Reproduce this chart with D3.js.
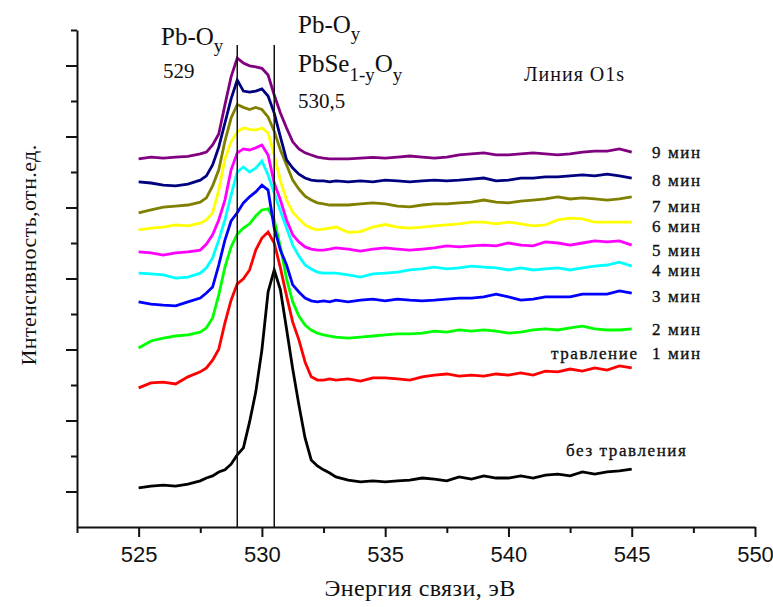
<!DOCTYPE html>
<html>
<head>
<meta charset="utf-8">
<script src="https://cdn.jsdelivr.net/npm/d3@7"></script>
<style>
  html, body { margin: 0; padding: 0; background: #fff; }
  svg { display: block; }
  text { font-family: "Liberation Serif", "Times New Roman", serif; fill: #111; }
  .tick text { font-family: "Liberation Sans", Arial, sans-serif; }
</style>
</head>
<body>
<svg id="chart" width="773" height="607"></svg>
<script>
// Binding energy grid, eV (finer steps across the O1s peak)
const energy = [525, 525.5, 526, 526.5, 527, 527.5,
  527.75, 528, 528.25, 528.5, 528.75, 529, 529.25, 529.5, 529.75, 530, 530.25,
  530.5, 530.75, 531, 531.25, 531.5, 531.75, 532, 532.25, 532.5, 532.75, 533,
  533.5, 534, 534.5, 535, 535.5, 536, 536.5, 537, 537.5, 538, 538.5, 539, 539.5,
  540, 540.5, 541, 541.5, 542, 542.5, 543, 543.5, 544, 544.5, 545];

// O1s intensity (rel. units, stacked) for each etching time
const min9 = [10.37, 10.42, 10.39, 10.42, 10.44, 10.51,
  10.56, 10.76, 11.07, 11.89, 12.68, 13.21, 13.07, 12.99, 12.96, 12.92, 12.73,
  12.17, 11.66, 11.24, 10.85, 10.65, 10.54, 10.48, 10.42, 10.39, 10.37, 10.37,
  10.37, 10.39, 10.41, 10.39, 10.42, 10.45, 10.42, 10.39, 10.42, 10.48, 10.51, 10.54, 10.48,
  10.48, 10.51, 10.54, 10.51, 10.48, 10.51, 10.56, 10.59, 10.59, 10.65, 10.56];
const min8 = [9.72, 9.69, 9.63, 9.61, 9.66, 9.77,
  9.89, 10.20, 10.70, 11.38, 12.06, 12.59, 12.28, 12.25, 12.28, 12.34, 12.14,
  11.66, 10.99, 10.34, 10.11, 9.94, 9.83, 9.77, 9.75, 9.75, 9.72, 9.75,
  9.72, 9.75, 9.72, 9.77, 9.75, 9.72, 9.75, 9.77, 9.75, 9.77, 9.80, 9.83, 9.75,
  9.77, 9.83, 9.83, 9.86, 9.86, 9.89, 9.92, 9.89, 9.94, 9.89, 9.83];
const min7 = [8.85, 8.93, 9.01, 9.04, 9.07, 9.15,
  9.27, 9.61, 10.06, 10.87, 11.52, 11.90, 11.82, 11.76, 11.82, 11.76, 11.55,
  11.15, 10.62, 10.20, 9.77, 9.52, 9.32, 9.21, 9.13, 9.10, 9.07, 9.07,
  9.07, 9.10, 9.13, 9.10, 9.04, 9.02, 9.07, 9.10, 9.10, 9.13, 9.15, 9.21, 9.15,
  9.13, 9.18, 9.21, 9.24, 9.30, 9.24, 9.27, 9.24, 9.21, 9.24, 9.30];
const min6 = [8.37, 8.42, 8.45, 8.51, 8.48, 8.56,
  8.65, 8.85, 9.49, 10.37, 10.85, 11.13, 11.24, 11.20, 11.18, 11.24, 11.10,
  10.48, 9.75, 9.21, 8.87, 8.68, 8.51, 8.42, 8.37, 8.39, 8.42, 8.45,
  8.30, 8.32, 8.45, 8.52, 8.45, 8.42, 8.45, 8.48, 8.51, 8.54, 8.59, 8.59, 8.54,
  8.59, 8.54, 8.48, 8.51, 8.65, 8.70, 8.68, 8.59, 8.59, 8.59, 8.59];
const min5 = [7.75, 7.72, 7.66, 7.72, 7.75, 7.80,
  7.97, 8.23, 8.65, 9.21, 10.06, 10.54, 10.65, 10.62, 10.68, 10.76, 10.48,
  9.69, 9.21, 8.65, 8.23, 8.03, 7.89, 7.83, 7.80, 7.80, 7.83, 7.86,
  7.83, 7.77, 7.83, 7.86, 7.83, 7.80, 7.83, 7.86, 7.92, 7.89, 7.92, 7.94, 7.92,
  8.00, 7.94, 7.92, 8.03, 8.00, 7.94, 8.00, 8.06, 8.03, 8.06, 7.94];
const min4 = [7.15, 7.13, 7.10, 7.01, 7.04, 7.15,
  7.30, 7.58, 8.08, 8.65, 9.35, 10.00, 10.14, 10.00, 10.11, 10.31, 9.92,
  9.41, 8.90, 8.42, 7.94, 7.63, 7.38, 7.27, 7.18, 7.15, 7.15, 7.15,
  7.10, 7.04, 7.13, 7.15, 7.18, 7.24, 7.27, 7.32, 7.27, 7.30, 7.35, 7.32, 7.30,
  7.24, 7.30, 7.24, 7.27, 7.30, 7.24, 7.30, 7.35, 7.38, 7.46, 7.35];
const min3 = [6.34, 6.28, 6.25, 6.23, 6.34, 6.45,
  6.59, 6.76, 7.38, 8.08, 8.62, 8.85, 9.13, 9.30, 9.44, 9.63, 9.49,
  8.42, 7.80, 7.38, 6.82, 6.62, 6.45, 6.37, 6.34, 6.37, 6.34, 6.39,
  6.34, 6.39, 6.42, 6.37, 6.42, 6.39, 6.37, 6.39, 6.42, 6.45, 6.45, 6.48, 6.56,
  6.48, 6.39, 6.42, 6.48, 6.48, 6.48, 6.56, 6.56, 6.56, 6.65, 6.59];
const min2 = [5.04, 5.24, 5.32, 5.38, 5.41, 5.49,
  5.61, 5.89, 6.54, 7.32, 7.89, 8.25, 8.42, 8.54, 8.76, 8.93, 8.96,
  8.65, 7.89, 6.99, 6.34, 5.94, 5.69, 5.55, 5.46, 5.41, 5.38, 5.35,
  5.32, 5.35, 5.38, 5.41, 5.44, 5.44, 5.46, 5.52, 5.49, 5.55, 5.52, 5.55, 5.52,
  5.46, 5.49, 5.55, 5.58, 5.55, 5.61, 5.66, 5.58, 5.55, 5.55, 5.58];
const min1 = [3.92, 4.06, 4.08, 4.03, 4.23, 4.37,
  4.48, 4.70, 5.01, 5.75, 6.39, 6.85, 6.99, 7.24, 7.80, 8.14, 8.31,
  8.00, 7.30, 6.51, 5.77, 5.27, 4.65, 4.23, 4.14, 4.14, 4.17, 4.14,
  4.17, 4.11, 4.20, 4.20, 4.17, 4.14, 4.23, 4.28, 4.31, 4.25, 4.28, 4.25, 4.31,
  4.28, 4.34, 4.28, 4.39, 4.37, 4.45, 4.39, 4.48, 4.42, 4.54, 4.48];
const min0 = [1.10, 1.15, 1.18, 1.15, 1.21, 1.30,
  1.38, 1.44, 1.55, 1.61, 1.77, 2.03, 2.23, 2.96, 3.80, 4.99, 6.62,
  7.24, 6.68, 5.58, 4.45, 3.44, 2.51, 1.89, 1.72, 1.61, 1.52, 1.41,
  1.32, 1.27, 1.30, 1.27, 1.30, 1.32, 1.38, 1.35, 1.30, 1.41, 1.35, 1.44, 1.38,
  1.38, 1.44, 1.38, 1.46, 1.49, 1.44, 1.55, 1.49, 1.55, 1.58, 1.63];

const seriesValues = [min0, min1, min2, min3, min4, min5, min6, min7, min8, min9];
const seriesNames = ["без травления", "1 мин", "2 мин", "3 мин", "4 мин",
  "5 мин", "6 мин", "7 мин", "8 мин", "9 мин"];
const seriesColors = ["#000000", "#ff0000", "#00ff00", "#0000ff", "#00ffff",
  "#ff00ff", "#ffff00", "#808000", "#000080", "#800080"];

// Reference binding energies marked with vertical lines
const refLines = [529, 530.5];

const xMajorTicks = [525, 530, 535, 540, 545, 550];
const xMinorTicks = [522.5, 527.5, 532.5, 537.5, 542.5, 547.5];
const yMajorTicks = [1, 3, 5, 7, 9, 11, 13];
const yMinorTicks = [2, 4, 6, 8, 10, 12, 14];

// ---- drawing ----
const svg = d3.select("#chart");
const x = d3.scaleLinear().domain([522.5, 550]).range([77, 755]);
const y = d3.scaleLinear().domain([0, 14]).range([527, 30]);

// axes
const gx = svg.append("g").attr("transform", `translate(0,${y(0)})`);
gx.call(d3.axisBottom(x).tickValues(xMajorTicks).tickSize(10).tickSizeOuter(0).tickPadding(9)
  .tickFormat(d3.format("d")));
gx.call(g => g.selectAll(".tick text").attr("font-size", 22).attr("fill", "#222"));
const gxm = svg.append("g").attr("transform", `translate(0,${y(0)})`);
gxm.call(d3.axisBottom(x).tickValues(xMinorTicks).tickSize(6).tickFormat(""));
gxm.select(".domain").remove();

const gy = svg.append("g").attr("transform", `translate(${x(522.5)},0)`);
gy.call(d3.axisLeft(y).tickValues(yMajorTicks).tickSize(11).tickSizeOuter(0).tickFormat(""));
const gym = svg.append("g").attr("transform", `translate(${x(522.5)},0)`);
gym.call(d3.axisLeft(y).tickValues(yMinorTicks).tickSize(6).tickFormat(""));
gym.select(".domain").remove();

svg.selectAll(".domain, .tick line").attr("stroke", "#111").attr("stroke-width", 2);

// spectra
const line = d3.line().x((d, i) => x(energy[i])).y(d => y(d));
svg.append("g").selectAll("path")
  .data(seriesValues)
  .join("path")
  .attr("d", d => line(d))
  .attr("fill", "none")
  .attr("stroke", (d, i) => seriesColors[i])
  .attr("stroke-width", 2.8)
  .attr("stroke-linejoin", "miter");

// vertical reference lines
svg.append("g").selectAll("line")
  .data(refLines)
  .join("line")
  .attr("x1", d => x(d)).attr("x2", d => x(d))
  .attr("y1", 45).attr("y2", y(0))
  .attr("stroke", "#111").attr("stroke-width", 1.5);

// series labels at the right end
const labelY = [456, 359, 335, 302, 276, 256, 232, 212, 186, 158];
const labelStyle = s => s.attr("font-size", 17).attr("letter-spacing", 1.6)
  .attr("stroke", "#111").attr("stroke-width", 0.35);
svg.append("g").selectAll("text")
  .data(seriesNames)
  .join("text")
  .attr("x", (d, i) => i === 0 ? 566 : 652)
  .attr("y", (d, i) => labelY[i])
  .call(labelStyle)
  .text(d => d);
svg.append("text").attr("x", 551).attr("y", labelY[1])
  .call(labelStyle).text("травление");

// peak annotations
const ann = svg.append("g");
const t1 = ann.append("text").attr("x", 161).attr("y", 45).attr("font-size", 25);
t1.append("tspan").text("Pb-O");
t1.append("tspan").attr("font-size", 19).attr("dy", 7).text("y");
ann.append("text").attr("x", 163).attr("y", 78).attr("font-size", 21).text("529");

const t2 = ann.append("text").attr("x", 298).attr("y", 33).attr("font-size", 25);
t2.append("tspan").text("Pb-O");
t2.append("tspan").attr("font-size", 19).attr("dy", 7).text("y");
const t3 = ann.append("text").attr("x", 298).attr("y", 72).attr("font-size", 25);
t3.append("tspan").text("PbSe");
t3.append("tspan").attr("font-size", 19).attr("dy", 9).text("1-y");
t3.append("tspan").attr("dy", -9).text("O");
t3.append("tspan").attr("font-size", 19).attr("dy", 9).text("y");
ann.append("text").attr("x", 298).attr("y", 108).attr("font-size", 21).text("530,5");

svg.append("text").attr("x", 524).attr("y", 81).attr("font-size", 20)
  .attr("letter-spacing", 1).text("Линия O1s");

// axis titles
svg.append("text").attr("x", 420).attr("y", 596).attr("text-anchor", "middle")
  .attr("font-size", 24).attr("letter-spacing", 0.4).text("Энергия связи, эВ");
svg.append("text").attr("transform", "translate(36,255) rotate(-90)")
  .attr("text-anchor", "middle").attr("font-size", 22).attr("letter-spacing", 0.4)
  .text("Интенсивность,отн.ед.");
</script>
</body>
</html>
